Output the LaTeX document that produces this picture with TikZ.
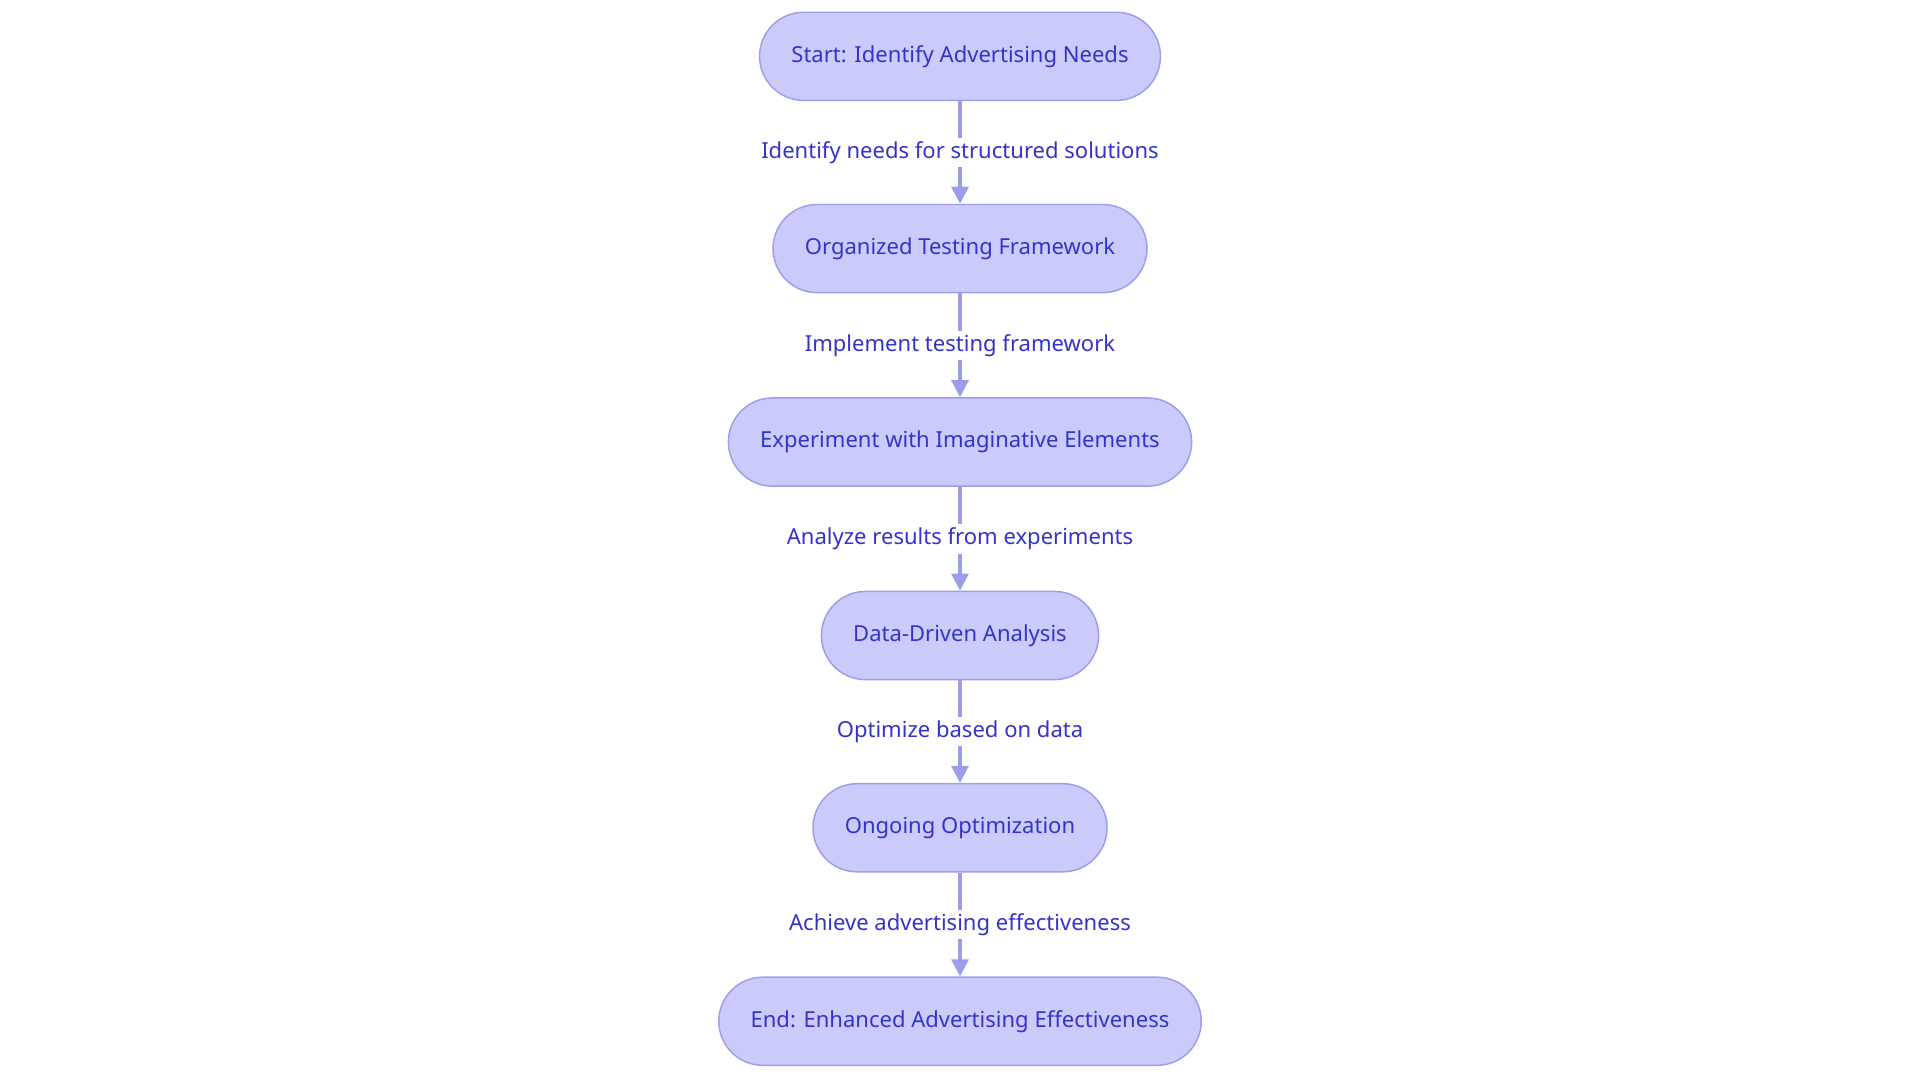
\documentclass[tikz,border=0pt]{standalone}
\usepackage{fontspec}
\setmainfont{Noto Sans}
\usetikzlibrary{arrows.meta}
\definecolor{boxfill}{HTML}{CACBFB}
\definecolor{boxline}{HTML}{9C9EEC}
\definecolor{txt}{HTML}{3333CC}
\tikzset{
  stage/.style={draw=boxline,fill=boxfill,rounded corners=18pt,minimum height=36pt,
    text=txt,font=\fontsize{9}{11}\selectfont,inner xsep=13pt,line width=0.6pt},
  flow/.style={draw=boxline,line width=1.3pt,-{Triangle[length=7pt,width=7pt]}},
  lbl/.style={fill=white,text=txt,font=\fontsize{9}{11}\selectfont,inner sep=1.5pt}
}
\begin{document}
\begin{tikzpicture}[x=0.5pt,y=-0.5pt]
\useasboundingbox (0,0) rectangle (1568,884);
\node[stage] (start) at (784,46) {Start: Identify Advertising Needs};
\node[stage] (frame) at (784,203) {Organized Testing Framework};
\node[stage] (exper) at (784,361) {Experiment with Imaginative Elements};
\node[stage] (anal) at (784,519) {Data-Driven Analysis};
\node[stage] (optim) at (784,676) {Ongoing Optimization};
\node[stage] (end) at (784,834) {End: Enhanced Advertising Effectiveness};

\draw[flow] (start) -- node[lbl] {Identify needs for structured solutions} (frame);
\draw[flow] (frame) -- node[lbl] {Implement testing framework} (exper);
\draw[flow] (exper) -- node[lbl] {Analyze results from experiments} (anal);
\draw[flow] (anal) -- node[lbl] {Optimize based on data} (optim);
\draw[flow] (optim) -- node[lbl] {Achieve advertising effectiveness} (end);
\end{tikzpicture}
\end{document}
